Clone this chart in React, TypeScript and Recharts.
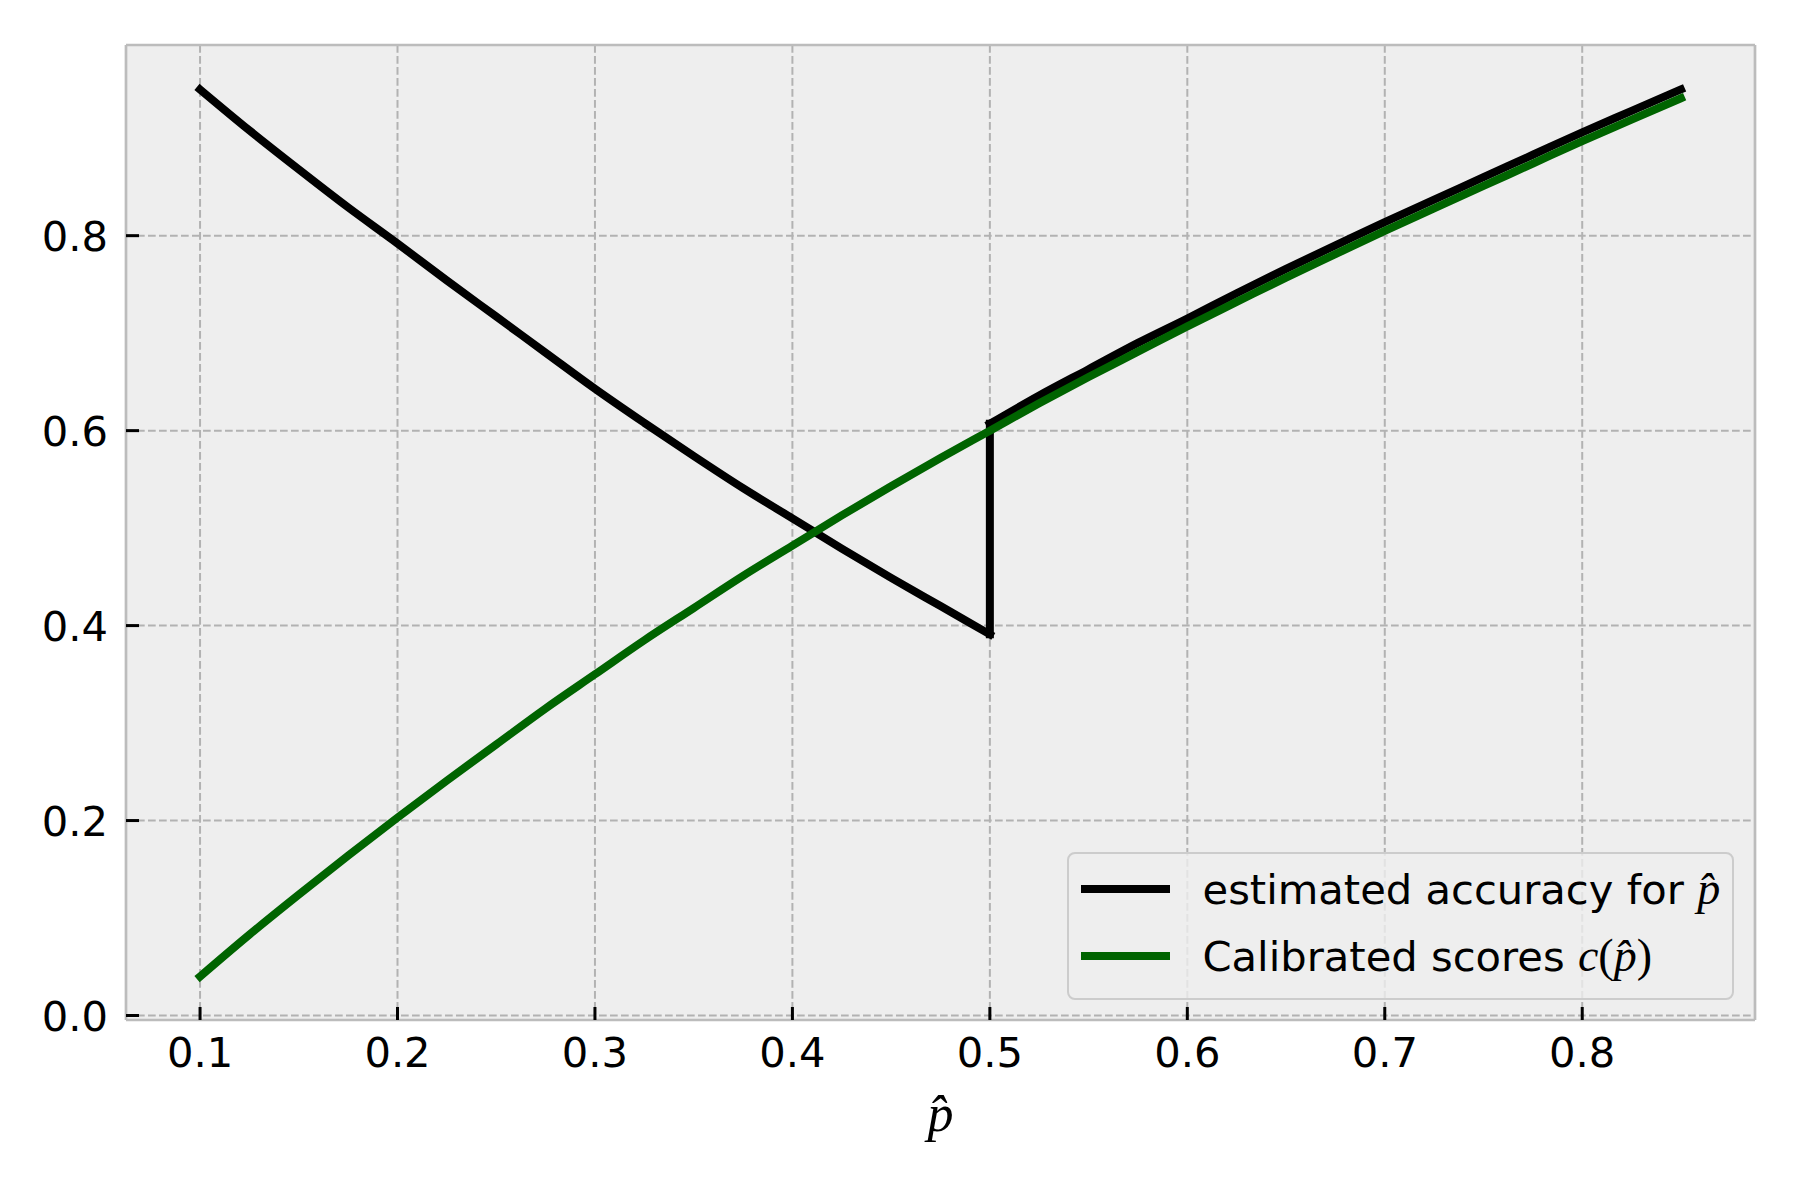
import React from 'react';
import { LineChart, Line, XAxis, YAxis, CartesianGrid, Legend, ReferenceLine } from 'recharts';

// p-hat grid the curves were read on
const P_HAT = [
  0.1, 0.125, 0.15, 0.175, 0.2, 0.225, 0.25, 0.275, 0.3, 0.325, 0.35, 0.375, 0.4, 0.425, 0.45, 0.475,
  0.5, 0.525, 0.55, 0.575, 0.6, 0.625, 0.65, 0.675, 0.7, 0.725, 0.75, 0.775, 0.8, 0.825, 0.85,
];

// calibrated scores c(p-hat), green curve
const CALIBRATED = [
  0.04, 0.083, 0.124, 0.164, 0.203, 0.241, 0.278, 0.315, 0.35, 0.385, 0.418, 0.451, 0.482, 0.513, 0.543, 0.572,
  0.6, 0.628, 0.655, 0.681, 0.707, 0.732, 0.757, 0.781, 0.805, 0.828, 0.851, 0.874, 0.897, 0.919, 0.941,
];

// estimated accuracy, black curve: up to the jump at 0.5 ...
const ACCURACY_BELOW = [
  0.95, 0.908, 0.868, 0.829, 0.792, 0.754, 0.717, 0.68, 0.643, 0.608, 0.574, 0.541, 0.51, 0.479, 0.449, 0.42,
  0.391,
];
// ... and from the jump on
const ACCURACY_ABOVE = [
  0.607, 0.636, 0.663, 0.69, 0.715, 0.741, 0.766, 0.79, 0.814, 0.837, 0.86, 0.883, 0.906, 0.928, 0.95,
];

const X_TICKS = [0.1, 0.2, 0.3, 0.4, 0.5, 0.6, 0.7, 0.8];
const Y_TICKS = [0, 0.2, 0.4, 0.6, 0.8];
const X_DOMAIN = [0.0625, 0.8875];
const Y_DOMAIN = [-0.0046, 0.9956];

const SERIES_NAMES = ['estimated accuracy for p\u0302', 'Calibrated scores c(p\u0302)'];
const SERIES_COLORS = ['#000000', '#006400'];

const JUMP_AT = P_HAT[ACCURACY_BELOW.length - 1];

const calibratedData = P_HAT.map((p, i) => ({ p, v: CALIBRATED[i] }));
const accuracyBelowData = ACCURACY_BELOW.map((v, i) => ({ p: P_HAT[i], v }));
const accuracyAboveData = ACCURACY_ABOVE.map((v, i) => ({ p: P_HAT[i + ACCURACY_BELOW.length - 1], v }));
const jumpData = [
  { p: JUMP_AT, v: ACCURACY_BELOW[ACCURACY_BELOW.length - 1] },
  { p: JUMP_AT, v: ACCURACY_ABOVE[0] },
];

const SANS = '"DejaVu Sans", sans-serif';
const MATH = '"Liberation Serif", serif';
const TICK_FONT = 41.67;
const FRAME = '#bcbcbc';
const LW = 8;

const XTick = ({ x, y, payload }: any) => (
  <g>
    <line x1={x} x2={x} y1={y} y2={y - 13} stroke="#000" strokeWidth={3} />
    <text x={x} y={y + 47} textAnchor="middle" fontSize={TICK_FONT} fontFamily={SANS} fill="#000">
      {Number(payload.value).toFixed(1)}
    </text>
  </g>
);

const YTick = ({ x, y, payload }: any) => (
  <g>
    <line x1={x} x2={x + 13} y1={y} y2={y} stroke="#000" strokeWidth={3} />
    <text x={x - 18} y={y + 15} textAnchor="end" fontSize={TICK_FONT} fontFamily={SANS} fill="#000">
      {Number(payload.value).toFixed(1)}
    </text>
  </g>
);

const XTitle = ({ viewBox }: any) => (
  <text
    x={viewBox.x + viewBox.width / 2}
    y={viewBox.y + 111}
    textAnchor="middle"
    fontSize={52}
    fontFamily={MATH}
    fontStyle="italic"
    fill="#000"
  >
    p{'\u0302'}
  </text>
);

const mathLabel = (i: number) =>
  i === 0 ? (
    <span style={{ fontFamily: MATH, fontStyle: 'italic', fontSize: 46 }}>p{'\u0302'}</span>
  ) : (
    <span style={{ fontFamily: MATH, fontSize: 46 }}>
      <i>c</i>(<i>p{'\u0302'}</i>)
    </span>
  );

const LegendBox = ({ payload }: any) => {
  const rows = (payload || [])
    .map((entry: any) => ({ entry, k: SERIES_NAMES.indexOf(entry.value) }))
    .filter((r: any) => r.k >= 0)
    .sort((a: any, b: any) => a.k - b.k);
  return (
    <div
      style={{
        position: 'relative',
        width: 667,
        height: 148,
        boxSizing: 'border-box',
        border: '2.5px solid #cccccc',
        borderRadius: 8,
        background: 'rgba(238,238,238,0.8)',
        fontFamily: SANS,
        fontSize: TICK_FONT,
        color: '#000',
      }}
    >
      {rows.map(({ k }: any) => (
        <div
          key={k}
          style={{
            position: 'absolute',
            left: 11.5,
            top: (k === 0 ? 37 : 104) - 25 - 2.5,
            height: 50,
            display: 'flex',
            alignItems: 'center',
            whiteSpace: 'nowrap',
          }}
        >
          <span
            style={{ display: 'inline-block', width: 89, height: LW, background: SERIES_COLORS[k], marginRight: 33 }}
          />
          <span>
            {k === 0 ? 'estimated accuracy for ' : 'Calibrated scores '}
            {mathLabel(k)}
          </span>
        </div>
      ))}
    </div>
  );
};

const lineStyle = {
  dataKey: 'v',
  strokeWidth: LW,
  strokeLinecap: 'square' as const,
  strokeLinejoin: 'round' as const,
  dot: false,
  activeDot: false,
  isAnimationActive: false,
};

export default function App() {
  return (
    <div style={{ position: 'absolute', left: 0, top: 0, width: 1800, height: 1200, background: '#fff' }}>
      <LineChart width={1800} height={1200} margin={{ top: 45, right: 45, bottom: 80, left: 26 }}>
        <CartesianGrid fill="#eeeeee" stroke="#b2b2b2" strokeWidth={2} strokeDasharray="7.7 3.3" />
        <XAxis
          type="number"
          dataKey="p"
          domain={X_DOMAIN}
          ticks={X_TICKS}
          allowDataOverflow
          height={100}
          tickSize={0}
          tickMargin={0}
          tickLine={false}
          axisLine={{ stroke: FRAME, strokeWidth: 2.7 }}
          tick={<XTick />}
          label={<XTitle />}
        />
        <YAxis
          type="number"
          domain={Y_DOMAIN}
          ticks={Y_TICKS}
          allowDataOverflow
          width={100}
          tickSize={0}
          tickMargin={0}
          tickLine={false}
          axisLine={{ stroke: FRAME, strokeWidth: 2.7 }}
          tick={<YTick />}
        />
        <ReferenceLine y={Y_DOMAIN[1]} stroke={FRAME} strokeWidth={2.7} ifOverflow="visible" />
        <ReferenceLine x={X_DOMAIN[1]} stroke={FRAME} strokeWidth={2.7} ifOverflow="visible" />
        <Line {...lineStyle} data={accuracyBelowData} type="monotone" stroke={SERIES_COLORS[0]} legendType="none" />
        <Line {...lineStyle} data={jumpData} type="linear" stroke={SERIES_COLORS[0]} legendType="none" />
        <Line
          {...lineStyle}
          data={accuracyAboveData}
          type="monotone"
          name={SERIES_NAMES[0]}
          stroke={SERIES_COLORS[0]}
        />
        <Line {...lineStyle} data={calibratedData} type="monotone" name={SERIES_NAMES[1]} stroke={SERIES_COLORS[1]} />
        <Legend
          layout="vertical"
          align="center"
          verticalAlign="middle"
          width={667}
          height={148}
          wrapperStyle={{ left: 1067, top: 852, width: 667, height: 148 }}
          content={<LegendBox />}
        />
      </LineChart>
    </div>
  );
}
